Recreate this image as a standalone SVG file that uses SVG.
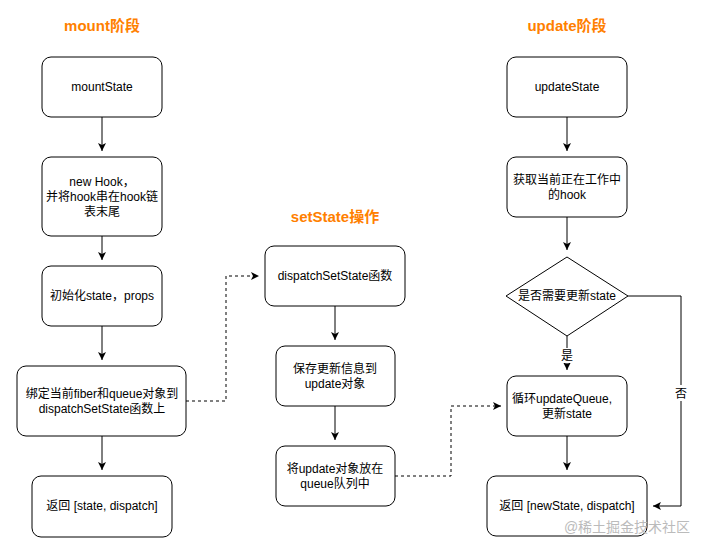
<svg xmlns="http://www.w3.org/2000/svg" width="706" height="553" viewBox="0 0 706 553">
<style>
.b{fill:#fff;stroke:#000;stroke-width:1}
text{font-family:"Liberation Sans","Noto Sans CJK SC",sans-serif;font-size:12px;text-anchor:middle;fill:#000}
.t{font-size:15px;font-weight:bold;fill:#ff8000}
.c{fill:none;stroke:#000;stroke-width:1}
.d{fill:none;stroke:#000;stroke-width:1;stroke-dasharray:3 3}
.w{font-size:14px;fill:#bbb}
</style>
<defs><marker id="a" markerWidth="10" markerHeight="10" refX="8" refY="5" orient="auto" markerUnits="userSpaceOnUse"><path d="M0,1 L8,5 L0,9 L2,5 Z" fill="#000"/></marker></defs>
<rect width="706" height="553" fill="#fff"/>
<text class="t" x="102" y="31">mount阶段</text>
<text class="t" x="335" y="222">setState操作</text>
<text class="t" x="567" y="31">update阶段</text>
<g id="connectors">
<path class="c" d="M102,117V151" marker-end="url(#a)"/>
<path class="c" d="M102,236V260" marker-end="url(#a)"/>
<path class="c" d="M102,326V360" marker-end="url(#a)"/>
<path class="c" d="M102,436V470" marker-end="url(#a)"/>
<path class="c" d="M335,306V340" marker-end="url(#a)"/>
<path class="c" d="M335,406V440" marker-end="url(#a)"/>
<path class="c" d="M567,117V151" marker-end="url(#a)"/>
<path class="c" d="M567,217V250" marker-end="url(#a)"/>
<path class="c" d="M567,336V370" marker-end="url(#a)"/>
<path class="c" d="M567,436V470" marker-end="url(#a)"/>
<path class="c" d="M628,296H681V506H653" marker-end="url(#a)"/>
<path class="d" d="M186,401H226V276H259" marker-end="url(#a)"/>
<path class="d" d="M395,476H451V406H501" marker-end="url(#a)"/>
<rect x="559" y="348" width="16" height="15" fill="#fff"/>
<text x="567" y="360">是</text>
<rect x="673" y="385" width="16" height="16" fill="#fff"/>
<text x="681" y="398">否</text>
</g>
<g id="mountState"><rect class="b" x="42" y="57" width="120" height="60" rx="9"/><text x="102" y="91">mountState</text></g>
<g id="newHook"><rect class="b" x="42" y="157" width="120" height="79" rx="9"/><text x="102" y="186">new Hook，</text><text x="102" y="201">并将hook串在hook链</text><text x="102" y="216">表末尾</text></g>
<g id="init"><rect class="b" x="42" y="266" width="120" height="60" rx="9"/><text x="102" y="300">初始化state，props</text></g>
<g id="bind"><rect class="b" x="17" y="366" width="169" height="70" rx="9"/><text x="102" y="398">绑定当前fiber和queue对象到</text><text x="102" y="413">dispatchSetState函数上</text></g>
<g id="ret1"><rect class="b" x="32" y="476" width="140" height="61" rx="9"/><text x="102" y="510">返回 [state, dispatch]</text></g>
<g id="dispatch"><rect class="b" x="265" y="246" width="140" height="60" rx="9"/><text x="335" y="280">dispatchSetState函数</text></g>
<g id="save"><rect class="b" x="276" y="346" width="119" height="60" rx="9"/><text x="335" y="373">保存更新信息到</text><text x="335" y="388">update对象</text></g>
<g id="put"><rect class="b" x="276" y="446" width="119" height="60" rx="9"/><text x="335" y="473">将update对象放在</text><text x="335" y="488">queue队列中</text></g>
<g id="updateState"><rect class="b" x="507" y="57" width="120" height="60" rx="9"/><text x="567" y="91">updateState</text></g>
<g id="get"><rect class="b" x="507" y="157" width="120" height="60" rx="9"/><text x="567" y="184">获取当前正在工作中</text><text x="567" y="199">的hook</text></g>
<g id="decide"><path class="b" d="M567,257L628,296L567,336L506,296Z" stroke-linejoin="round"/><text x="567" y="300">是否需要更新state</text></g>
<g id="loop"><rect class="b" x="507" y="376" width="120" height="60" rx="9"/><text x="562" y="403">循环updateQueue,</text><text x="567" y="418">更新state</text></g>
<g id="ret2"><rect class="b" x="487" y="476" width="160" height="60" rx="9"/><text x="567" y="510">返回 [newState, dispatch]</text></g>
<text class="w" x="627" y="532">@稀土掘金技术社区</text>
</svg>
